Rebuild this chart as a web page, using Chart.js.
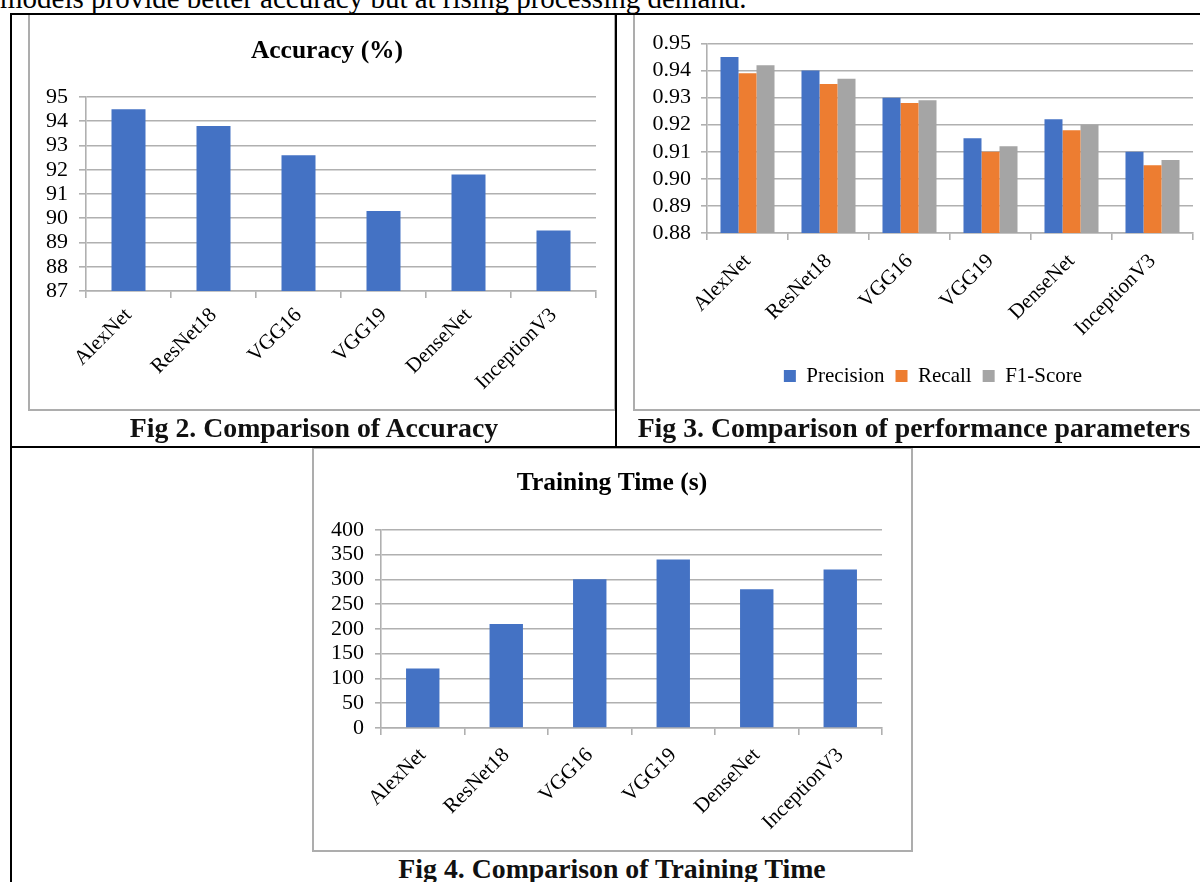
<!DOCTYPE html>
<html>
<head>
<meta charset="utf-8">
<script src="https://cdn.jsdelivr.net/npm/chart.js@4.4.0/dist/chart.umd.min.js"></script>
<style>
  html, body { margin: 0; padding: 0; background: #fff; width: 1200px; height: 882px; overflow: hidden; }
  body { position: relative; }
  canvas { position: absolute; }
  .rule { position: absolute; background: #000; }
  .frame { position: absolute; border: 2px solid #adadad; box-sizing: border-box; pointer-events: none; }
  .cap { position: absolute; width: 700px; text-align: center; white-space: nowrap;
         font-family: "Liberation Serif", "Times New Roman", serif; font-weight: bold;
         font-size: 27.8px; line-height: 27.8px; color: #111; }
  .para { position: absolute; left: 0; top: -16px; white-space: nowrap;
          font-family: "Liberation Serif", "Times New Roman", serif;
          font-size: 29px; line-height: 29px; color: #000; }
</style>
</head>
<body>
<div class="para">models provide better accuracy but at rising processing demand.</div>

<canvas id="accChart" width="586" height="395" style="left:29px;top:15px"></canvas>
<canvas id="perfChart" width="598" height="395" style="left:634px;top:15px"></canvas>
<canvas id="timeChart" width="599" height="402" style="left:313px;top:449px"></canvas>

<div class="frame" style="left:28px;top:13px;width:588px;height:398px"></div>
<div class="frame" style="left:633px;top:13px;width:600px;height:398px"></div>
<div class="frame" style="left:312px;top:447px;width:601px;height:405px"></div>

<!-- table rules -->
<div class="rule" style="left:10px;top:13px;width:1190px;height:2px"></div>
<div class="rule" style="left:10px;top:13px;width:2px;height:869px"></div>
<div class="rule" style="left:615px;top:13px;width:2px;height:434px"></div>
<div class="rule" style="left:10px;top:446px;width:1190px;height:2px"></div>

<div class="cap" style="left:-36px;top:413.7px">Fig 2. Comparison of Accuracy</div>
<div class="cap" style="left:564px;top:413.7px">Fig 3. Comparison of performance parameters</div>
<div class="cap" style="left:262px;top:854.7px">Fig 4. Comparison of Training Time</div>

<script>
// Models compared in all three figures
const models = ['AlexNet', 'ResNet18', 'VGG16', 'VGG19', 'DenseNet', 'InceptionV3'];

// Fig 2: accuracy in percent
const accuracy = [94.5, 93.8, 92.6, 90.3, 91.8, 89.5];

// Fig 3: performance parameters
const precision = [0.945, 0.940, 0.930, 0.915, 0.922, 0.910];
const recall    = [0.939, 0.935, 0.928, 0.910, 0.918, 0.905];
const f1Score   = [0.942, 0.937, 0.929, 0.912, 0.920, 0.907];

// Fig 4: training time in seconds
const trainingTime = [120, 210, 300, 340, 280, 320];

const BLUE = '#4472C4', ORANGE = '#ED7D31', GREY = '#A5A5A5';
const GRID = '#b0b0b0';
const SERIF = '"Liberation Serif", "Times New Roman", serif';

Chart.defaults.font.family = SERIF;
Chart.defaults.color = '#000';
Chart.defaults.animation = false;

// Slides the title / legend blocks sideways after layout, so they can be
// centred on the whole frame rather than on the padded layout width.
const nudgeBlocks = {
  id: 'nudgeBlocks',
  afterLayout(chart, args, opts) {
    if (opts.title && chart.titleBlock) {
      chart.titleBlock.left += opts.title;
      chart.titleBlock.right += opts.title;
    }
    if (opts.legend && chart.legend) {
      chart.legend.left += opts.legend;
      chart.legend.right += opts.legend;
    }
  }
};

// value axis with a fixed width so the plot area lands where intended
function valueAxis(min, max, step, width, tickLen, pad, fmt) {
  return {
    min: min, max: max,
    ticks: { stepSize: step, autoSkip: false, font: { size: 22 }, color: '#000', padding: pad,
             callback: fmt || (v => v) },
    grid: { color: GRID, lineWidth: 1.6, tickLength: tickLen, drawTicks: true },
    border: { display: true, color: GRID, width: 1.6 },
    afterFit: s => { s.width = width; }
  };
}

// category axis: boundary tick marks only, labels at 45 degrees
function categoryAxis(height, pad) {
  return {
    ticks: { font: { size: 21 }, color: '#000', minRotation: 45, maxRotation: 45,
             autoSkip: false, padding: pad },
    grid: { drawOnChartArea: false, drawTicks: true, tickLength: 7, color: GRID, lineWidth: 1.6 },
    border: { display: true, color: GRID, width: 1.6 },
    afterFit: s => { s.height = height; }
  };
}

function titleOpts(text, top, bottom) {
  return { display: true, text: text, color: '#000',
           font: { size: 25.5, weight: 'bold', family: SERIF },
           padding: { top: top, bottom: bottom } };
}

// Fig 2 — accuracy
new Chart(document.getElementById('accChart'), {
  type: 'bar',
  data: {
    labels: models,
    datasets: [{ label: 'Accuracy (%)', data: accuracy, backgroundColor: BLUE,
                 borderWidth: 0, categoryPercentage: 0.4, barPercentage: 1 }]
  },
  plugins: [nudgeBlocks],
  options: {
    responsive: false, maintainAspectRatio: false,
    layout: { padding: { left: 0, right: 19, top: 0, bottom: 0 } },
    plugins: { legend: { display: false }, tooltip: { enabled: false },
               title: titleOpts('Accuracy (%)', 21.4, 30),
               nudgeBlocks: { title: 14.5 } },
    scales: {
      x: categoryAxis(119, 5),
      y: valueAxis(87, 95, 1, 57, 7, 11)
    }
  }
});

// Fig 3 — precision, recall, F1
new Chart(document.getElementById('perfChart'), {
  type: 'bar',
  data: {
    labels: models,
    datasets: [
      { label: 'Precision', data: precision, backgroundColor: BLUE, borderWidth: 0,
        categoryPercentage: 0.667, barPercentage: 1 },
      { label: 'Recall', data: recall, backgroundColor: ORANGE, borderWidth: 0,
        categoryPercentage: 0.667, barPercentage: 1 },
      { label: 'F1-Score', data: f1Score, backgroundColor: GREY, borderWidth: 0,
        categoryPercentage: 0.667, barPercentage: 1 }
    ]
  },
  plugins: [nudgeBlocks],
  options: {
    responsive: false, maintainAspectRatio: false,
    layout: { padding: { left: 0, right: 39, top: 28.5, bottom: 13.5 } },
    plugins: {
      tooltip: { enabled: false },
      legend: { display: true, position: 'bottom',
                labels: { font: { size: 21 }, color: '#000', boxWidth: 12, boxHeight: 12, padding: 11 } },
      nudgeBlocks: { legend: 19.5 }
    },
    scales: {
      x: categoryAxis(121.5, 9),
      y: valueAxis(0.88, 0.95, 0.01, 73, 6, 10, v => v.toFixed(2))
    }
  }
});

// Fig 4 — training time
new Chart(document.getElementById('timeChart'), {
  type: 'bar',
  data: {
    labels: models,
    datasets: [{ label: 'Training Time (s)', data: trainingTime, backgroundColor: BLUE,
                 borderWidth: 0, categoryPercentage: 0.4, barPercentage: 1 }]
  },
  plugins: [nudgeBlocks],
  options: {
    responsive: false, maintainAspectRatio: false,
    layout: { padding: { left: 0, right: 30, top: 0, bottom: 0 } },
    plugins: { legend: { display: false }, tooltip: { enabled: false },
               title: titleOpts('Training Time (s)', 18.7, 31.5),
               nudgeBlocks: { title: 14.5 } },
    scales: {
      x: categoryAxis(123, 8),
      y: valueAxis(0, 400, 50, 68, 6, 11)
    }
  }
});
</script>
</body>
</html>
